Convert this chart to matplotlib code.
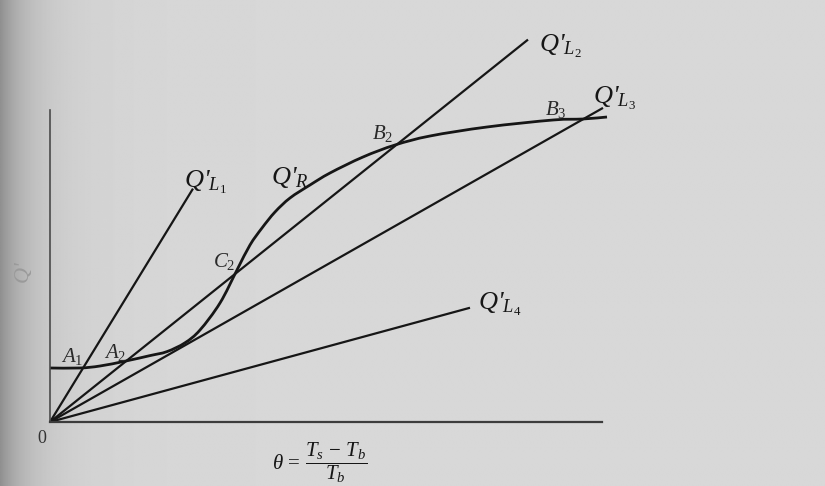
import numpy as np
import matplotlib
matplotlib.use("Agg")
import matplotlib.pyplot as plt
from matplotlib.path import Path
from matplotlib.patches import PathPatch

plt.rcParams["mathtext.fontset"] = "custom"
plt.rcParams["mathtext.rm"] = "Liberation Serif"
plt.rcParams["mathtext.it"] = "Liberation Serif:italic"
plt.rcParams["font.family"] = ["Liberation Serif", "DejaVu Serif"]

# Heat-removal lines Q'_L = slope * theta, drawn from the origin up to theta_end
line_subs = ["1", "2", "3", "4"]
line_slopes = [2.04, 1.00, 0.71, 0.34]
line_theta_end = [2.86, 9.56, 11.06, 8.40]

# Heat-generation curve Q'_R(theta)
qr_theta = [0.00, 0.60, 1.00, 1.50, 2.00, 2.34, 2.70, 3.00, 3.40, 3.74,
            4.00, 4.24, 4.50, 4.80, 5.20, 5.60, 6.26, 6.90, 7.60, 8.74,
            10.06, 10.66, 11.14]
qr_value = [1.35, 1.35, 1.40, 1.52, 1.66, 1.76, 1.98, 2.30, 2.975, 3.80,
            4.425, 4.85, 5.25, 5.60, 5.925, 6.225, 6.625, 6.925, 7.15, 7.375,
            7.55, 7.575, 7.625]

# Operating-point labels and their positions (theta, Q')
point_labels = [r"$A_1$", r"$A_2$", r"$C_2$", r"$B_2$", r"$B_3$"]
point_theta = [0.44, 1.30, 3.48, 6.66, 10.12]
point_q = [1.63, 1.73, 4.00, 7.22, 7.80]

W, H = 825, 486
fig = plt.figure(figsize=(W / 100, H / 100), dpi=100)
fig.patch.set_facecolor("#d7d7d7")

# page shading toward the binding edge
bg = fig.add_axes([0, 0, 1, 1], zorder=0)
gx = np.linspace(0, 1, 600)
shade = 0.845 - 0.22 * np.exp(-gx / 0.03) - 0.06 * np.exp(-gx / 0.08)
bg.imshow(np.tile(shade, (10, 1)), cmap="gray", vmin=0, vmax=1,
          aspect="auto", extent=[0, 1, 0, 1], interpolation="bilinear")
bg.set_axis_off()

left, right, top, bottom = 50, 602, 110, 422
ax = fig.add_axes([left / W, (H - bottom) / H, (right - left) / W, (bottom - top) / H],
                  zorder=1)
ax.patch.set_alpha(0)
ax.set_xlim(0, (right - left) / 50)
ax.set_ylim(0, (bottom - top) / 40)
for s in ["top", "right"]:
    ax.spines[s].set_visible(False)
ax.spines["left"].set_color("#4a4a4a")
ax.spines["left"].set_linewidth(1.2)
ax.spines["bottom"].set_color("#3c3c3c")
ax.spines["bottom"].set_linewidth(1.6)
ax.set_xticks([])
ax.set_yticks([])

ink = "#161616"
for slope, t_end in zip(line_slopes, line_theta_end):
    t = np.array([0.0, t_end])
    ax.plot(t, slope * t, color=ink, lw=1.6, clip_on=False, solid_capstyle="butt")

# smooth Q'_R curve through its points (Catmull-Rom as cubic Bezier segments)
P = np.column_stack([qr_theta, qr_value])
verts = [tuple(P[0])]
codes = [Path.MOVETO]
for i in range(len(P) - 1):
    p0 = P[i - 1] if i > 0 else P[i]
    p1, p2 = P[i], P[i + 1]
    p3 = P[i + 2] if i + 2 < len(P) else P[i + 1]
    c1 = p1 + (p2 - p0) / 6.0
    c2 = p2 - (p3 - p1) / 6.0
    verts += [tuple(c1), tuple(c2), tuple(p2)]
    codes += [Path.CURVE4] * 3
ax.add_patch(PathPatch(Path(verts, codes), facecolor="none", edgecolor=ink,
                       lw=2.0, clip_on=False, transform=ax.transData))


def q_label(x, y, sub, big=19):
    """Write Q' with a two-level subscript such as L_1 at data point (x, y)."""
    ax.text(x, y, r"$Q$'$_{" + sub + "}$", fontsize=big, color=ink,
            fontstyle="italic", ha="center", va="center", clip_on=False)


line_label_pos = [(3.10, 6.00), (10.20, 9.40), (11.30, 8.10), (9.00, 2.95)]
for sub, (lx, ly) in zip(line_subs, line_label_pos):
    q_label(lx, ly, "L_{" + sub + "}")
q_label(4.80, 6.10, "R")

for name, px, py in zip(point_labels, point_theta, point_q):
    ax.text(px, py, name, clip_on=False, fontsize=15, color="#2a2a2a",
            ha="center", va="center")

ax.text(-0.16, -0.40, "0", fontsize=13, color="#333333", ha="center", va="center",
        clip_on=False)
ax.text(5.40, -1.03, r"$\theta\,=\,\dfrac{T_s\,-\,T_b}{T_b}$", fontsize=15,
        color=ink, ha="center", va="center", clip_on=False)
fig.text(24 / W, 1 - 272 / H, r"$Q$'", rotation=90, fontsize=16, color="#9a9a9a",
         fontstyle="italic", ha="center", va="center")

fig.savefig("out.png", dpi=100, facecolor=fig.get_facecolor())
